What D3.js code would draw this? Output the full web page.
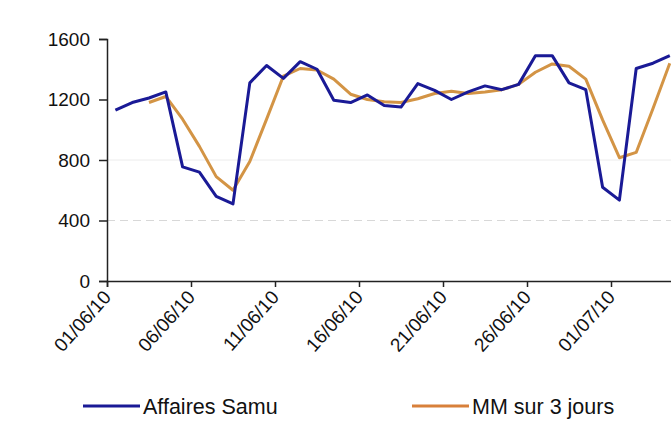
<!DOCTYPE html>
<html>
<head>
<meta charset="utf-8">
<script src="https://cdn.jsdelivr.net/npm/d3@7"></script>
<style>
  body { margin: 0; background: #fff; }
  svg { display: block; font-family: "Liberation Sans", Arial, sans-serif; }
</style>
</head>
<body>
<div id="chart"></div>
<script>
// categories : one per day, 01/06/10 -> 04/07/10
const days = [
  '01/06/10', '02/06/10', '03/06/10', '04/06/10', '05/06/10', '06/06/10', '07/06/10',
  '08/06/10', '09/06/10', '10/06/10', '11/06/10', '12/06/10', '13/06/10', '14/06/10',
  '15/06/10', '16/06/10', '17/06/10', '18/06/10', '19/06/10', '20/06/10', '21/06/10',
  '22/06/10', '23/06/10', '24/06/10', '25/06/10', '26/06/10', '27/06/10', '28/06/10',
  '29/06/10', '30/06/10', '01/07/10', '02/07/10', '03/07/10', '04/07/10'
];

// Affaires Samu (daily)
const affaires = [
  1130, 1180, 1210, 1250, 755, 720, 560, 510, 1310, 1425, 1340, 1450, 1400, 1195,
  1180, 1230, 1160, 1150, 1305, 1260, 1200, 1250, 1290, 1265, 1300, 1490, 1490,
  1310, 1265, 620, 535, 1405, 1440, 1490
];

// MM sur 3 jours (starts on the 3rd day)
const mm3 = [
  null, null, 1180, 1220, 1070, 890, 690, 600, 790, 1070, 1355, 1405, 1395, 1335,
  1235, 1200, 1185, 1180, 1205, 1240, 1255, 1240, 1250, 1265, 1300, 1380, 1435,
  1420, 1335, 1065, 815, 850, 1140, 1440
];

const yTicks = [0, 400, 800, 1200, 1600];
const xTickLabels = ['01/06/10', '06/06/10', '11/06/10', '16/06/10', '21/06/10', '26/06/10', '01/07/10'];
const seriesNames = ['Affaires Samu', 'MM sur 3 jours'];

const width = 671, height = 436;
const plotLeft = 107, plotTop = 39, plotBottom = 281;
const dayW = 16.8;

const svg = d3.select('#chart').append('svg')
  .attr('width', width)
  .attr('height', height);

const x = d3.scaleLinear()
  .domain([0, days.length])
  .range([plotLeft, plotLeft + days.length * dayW]);

const y = d3.scaleLinear()
  .domain([0, 1600])
  .range([plotBottom, plotTop]);

// faint gridlines
svg.append('g')
  .selectAll('line')
  .data([400, 800])
  .enter()
  .append('line')
  .attr('x1', plotLeft)
  .attr('x2', width)
  .attr('y1', d => y(d))
  .attr('y2', d => y(d))
  .attr('stroke', d => (d === 400 ? '#d8d8d8' : '#ececec'))
  .attr('stroke-dasharray', d => (d === 400 ? '8,5' : null))
  .attr('stroke-width', 1);

// y axis
const yAxis = d3.axisLeft(y).tickValues(yTicks).tickSize(8).tickPadding(9).tickFormat(d3.format('d'));
const gy = svg.append('g')
  .attr('transform', `translate(${plotLeft},0)`)
  .call(yAxis);
gy.select('.domain').attr('stroke', '#222').attr('stroke-width', 1.5);
gy.selectAll('.tick line').attr('stroke', '#222').attr('stroke-width', 1.5);
gy.selectAll('.tick text')
  .attr('font-size', 19)
  .attr('font-family', '"Liberation Sans", Arial, sans-serif')
  .attr('fill', '#111');

// x axis : tick every 5 days, on category boundaries
const xTickIdx = xTickLabels.map(l => days.indexOf(l));
const xAxis = d3.axisBottom(x).tickValues(xTickIdx).tickSize(6).tickFormat('');
const gx = svg.append('g')
  .attr('transform', `translate(0,${plotBottom})`)
  .call(xAxis);
gx.select('.domain').attr('stroke', '#222').attr('stroke-width', 1.5);
gx.selectAll('.tick line').attr('stroke', '#222').attr('stroke-width', 1.5);

svg.append('g')
  .selectAll('text')
  .data(xTickLabels)
  .enter()
  .append('text')
  .attr('transform', d => `translate(${x(days.indexOf(d)) + 5},${plotBottom + 17}) rotate(-48)`)
  .attr('text-anchor', 'end')
  .attr('font-size', 19)
  .attr('fill', '#111')
  .text(d => d);

// lines
const line = d3.line()
  .defined(d => d != null)
  .x((d, i) => x(i + 0.5))
  .y(d => y(d));

svg.append('path')
  .datum(mm3)
  .attr('d', line)
  .attr('fill', 'none')
  .attr('stroke', '#d39445')
  .attr('stroke-width', 3)
  .attr('stroke-linejoin', 'round');

svg.append('path')
  .datum(affaires)
  .attr('d', line)
  .attr('fill', 'none')
  .attr('stroke', '#1a1a96')
  .attr('stroke-width', 3)
  .attr('stroke-linejoin', 'round');

// legend
const legend = [
  { name: seriesNames[0], color: '#1a1a96', x: 83 },
  { name: seriesNames[1], color: '#d8803a', x: 412 },
];
const lg = svg.append('g')
  .selectAll('g')
  .data(legend)
  .enter()
  .append('g')
  .attr('transform', d => `translate(${d.x},406)`);
lg.append('line')
  .attr('x1', 0)
  .attr('x2', 57)
  .attr('stroke', d => d.color)
  .attr('stroke-width', 3);
lg.append('text')
  .attr('x', 60)
  .attr('dy', '0.35em')
  .attr('font-size', 21.5)
  .attr('fill', '#111')
  .text(d => d.name);
</script>
</body>
</html>
